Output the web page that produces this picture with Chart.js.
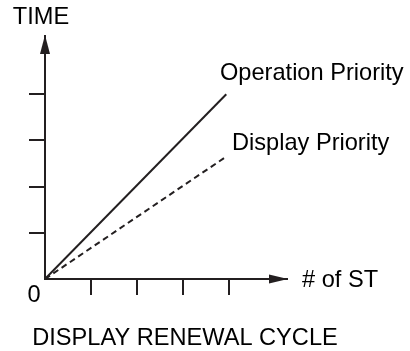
<!DOCTYPE html>
<html>
<head>
<meta charset="utf-8">
<script src="https://cdn.jsdelivr.net/npm/chart.js@4"></script>
<style>
  html, body { margin: 0; padding: 0; background: #fff; }
  #wrap { position: relative; width: 410px; height: 351px; }
</style>
</head>
<body>
<div id="wrap"><canvas id="chart" width="410" height="351"></canvas></div>
<script>
// Display renewal cycle — time vs number of ST

const stCount = [0, 3.94];           // # of ST (x)
const opTime = [0, 4];               // Operation Priority
const dispTime = [0, 2.65];          // Display Priority
const tickVals = [1, 2, 3, 4];       // unlabelled tick marks on both axes
const axisMax = 5.26;                // where the arrow tips sit

const INK = '#231f20';
const FONT = '23.6px "Liberation Sans", Arial, sans-serif';

const toPoints = (xs, ys) => xs.map((x, i) => ({ x, y: ys[i] }));

// arrows + free text, placed from the scales
const annotate = {
  id: 'annotate',
  afterDraw(chart) {
    const { ctx, scales: { x, y } } = chart;
    const ox = x.getPixelForValue(0), oy = y.getPixelForValue(0);
    const tipY = y.getPixelForValue(axisMax), tipX = x.getPixelForValue(axisMax);
    ctx.save();
    ctx.fillStyle = INK;

    // y arrow
    ctx.beginPath();
    ctx.moveTo(ox, tipY - 1);
    ctx.lineTo(ox - 5, tipY + 18);
    ctx.lineTo(ox + 5, tipY + 18);
    ctx.closePath();
    ctx.fill();

    // x arrow
    ctx.beginPath();
    ctx.moveTo(tipX + 1, oy);
    ctx.lineTo(tipX - 18, oy - 4.5);
    ctx.lineTo(tipX - 18, oy + 4.5);
    ctx.closePath();
    ctx.fill();

    ctx.font = FONT;
    ctx.fillStyle = '#000';
    ctx.textBaseline = 'middle';
    ctx.textAlign = 'center';
    ctx.fillText('TIME', ox - 4, 17);
    ctx.fillText('0', ox - 11, oy + 16);
    ctx.fillText('DISPLAY RENEWAL CYCLE', 185, 338);

    ctx.textAlign = 'left';
    ctx.fillText('# of ST', tipX + 15, oy + 1);
    ctx.fillText('Operation Priority', 220, 73);
    ctx.fillText('Display Priority', 232, 143);
    ctx.restore();
  }
};

const axisCommon = {
  type: 'linear',
  min: 0,
  max: axisMax,
  afterBuildTicks: s => { s.ticks = tickVals.map(v => ({ value: v })); },
  ticks: { display: false },
  grid: {
    drawOnChartArea: false,
    drawTicks: true,
    tickLength: 16,
    color: INK,
    lineWidth: 2,
  },
  border: { display: true, color: INK, width: 2 },
};

new Chart(document.getElementById('chart'), {
  type: 'scatter',
  data: {
    datasets: [{
      label: 'Operation Priority',
      data: toPoints(stCount, opTime),
      showLine: true,
      borderColor: INK,
      borderWidth: 2,
      pointRadius: 0,
    }, {
      label: 'Display Priority',
      data: toPoints(stCount, dispTime),
      showLine: true,
      borderColor: INK,
      borderWidth: 2,
      borderDash: [6, 4],
      pointRadius: 0,
    }],
  },
  options: {
    responsive: false,
    animation: false,
    layout: { padding: { left: 29, right: 123, top: 36, bottom: 56 } },
    plugins: {
      legend: { display: false },
      tooltip: { enabled: false },
    },
    scales: {
      x: { ...axisCommon, position: 'bottom' },
      y: { ...axisCommon, position: 'left' },
    },
  },
  plugins: [annotate],
});
</script>
</body>
</html>
